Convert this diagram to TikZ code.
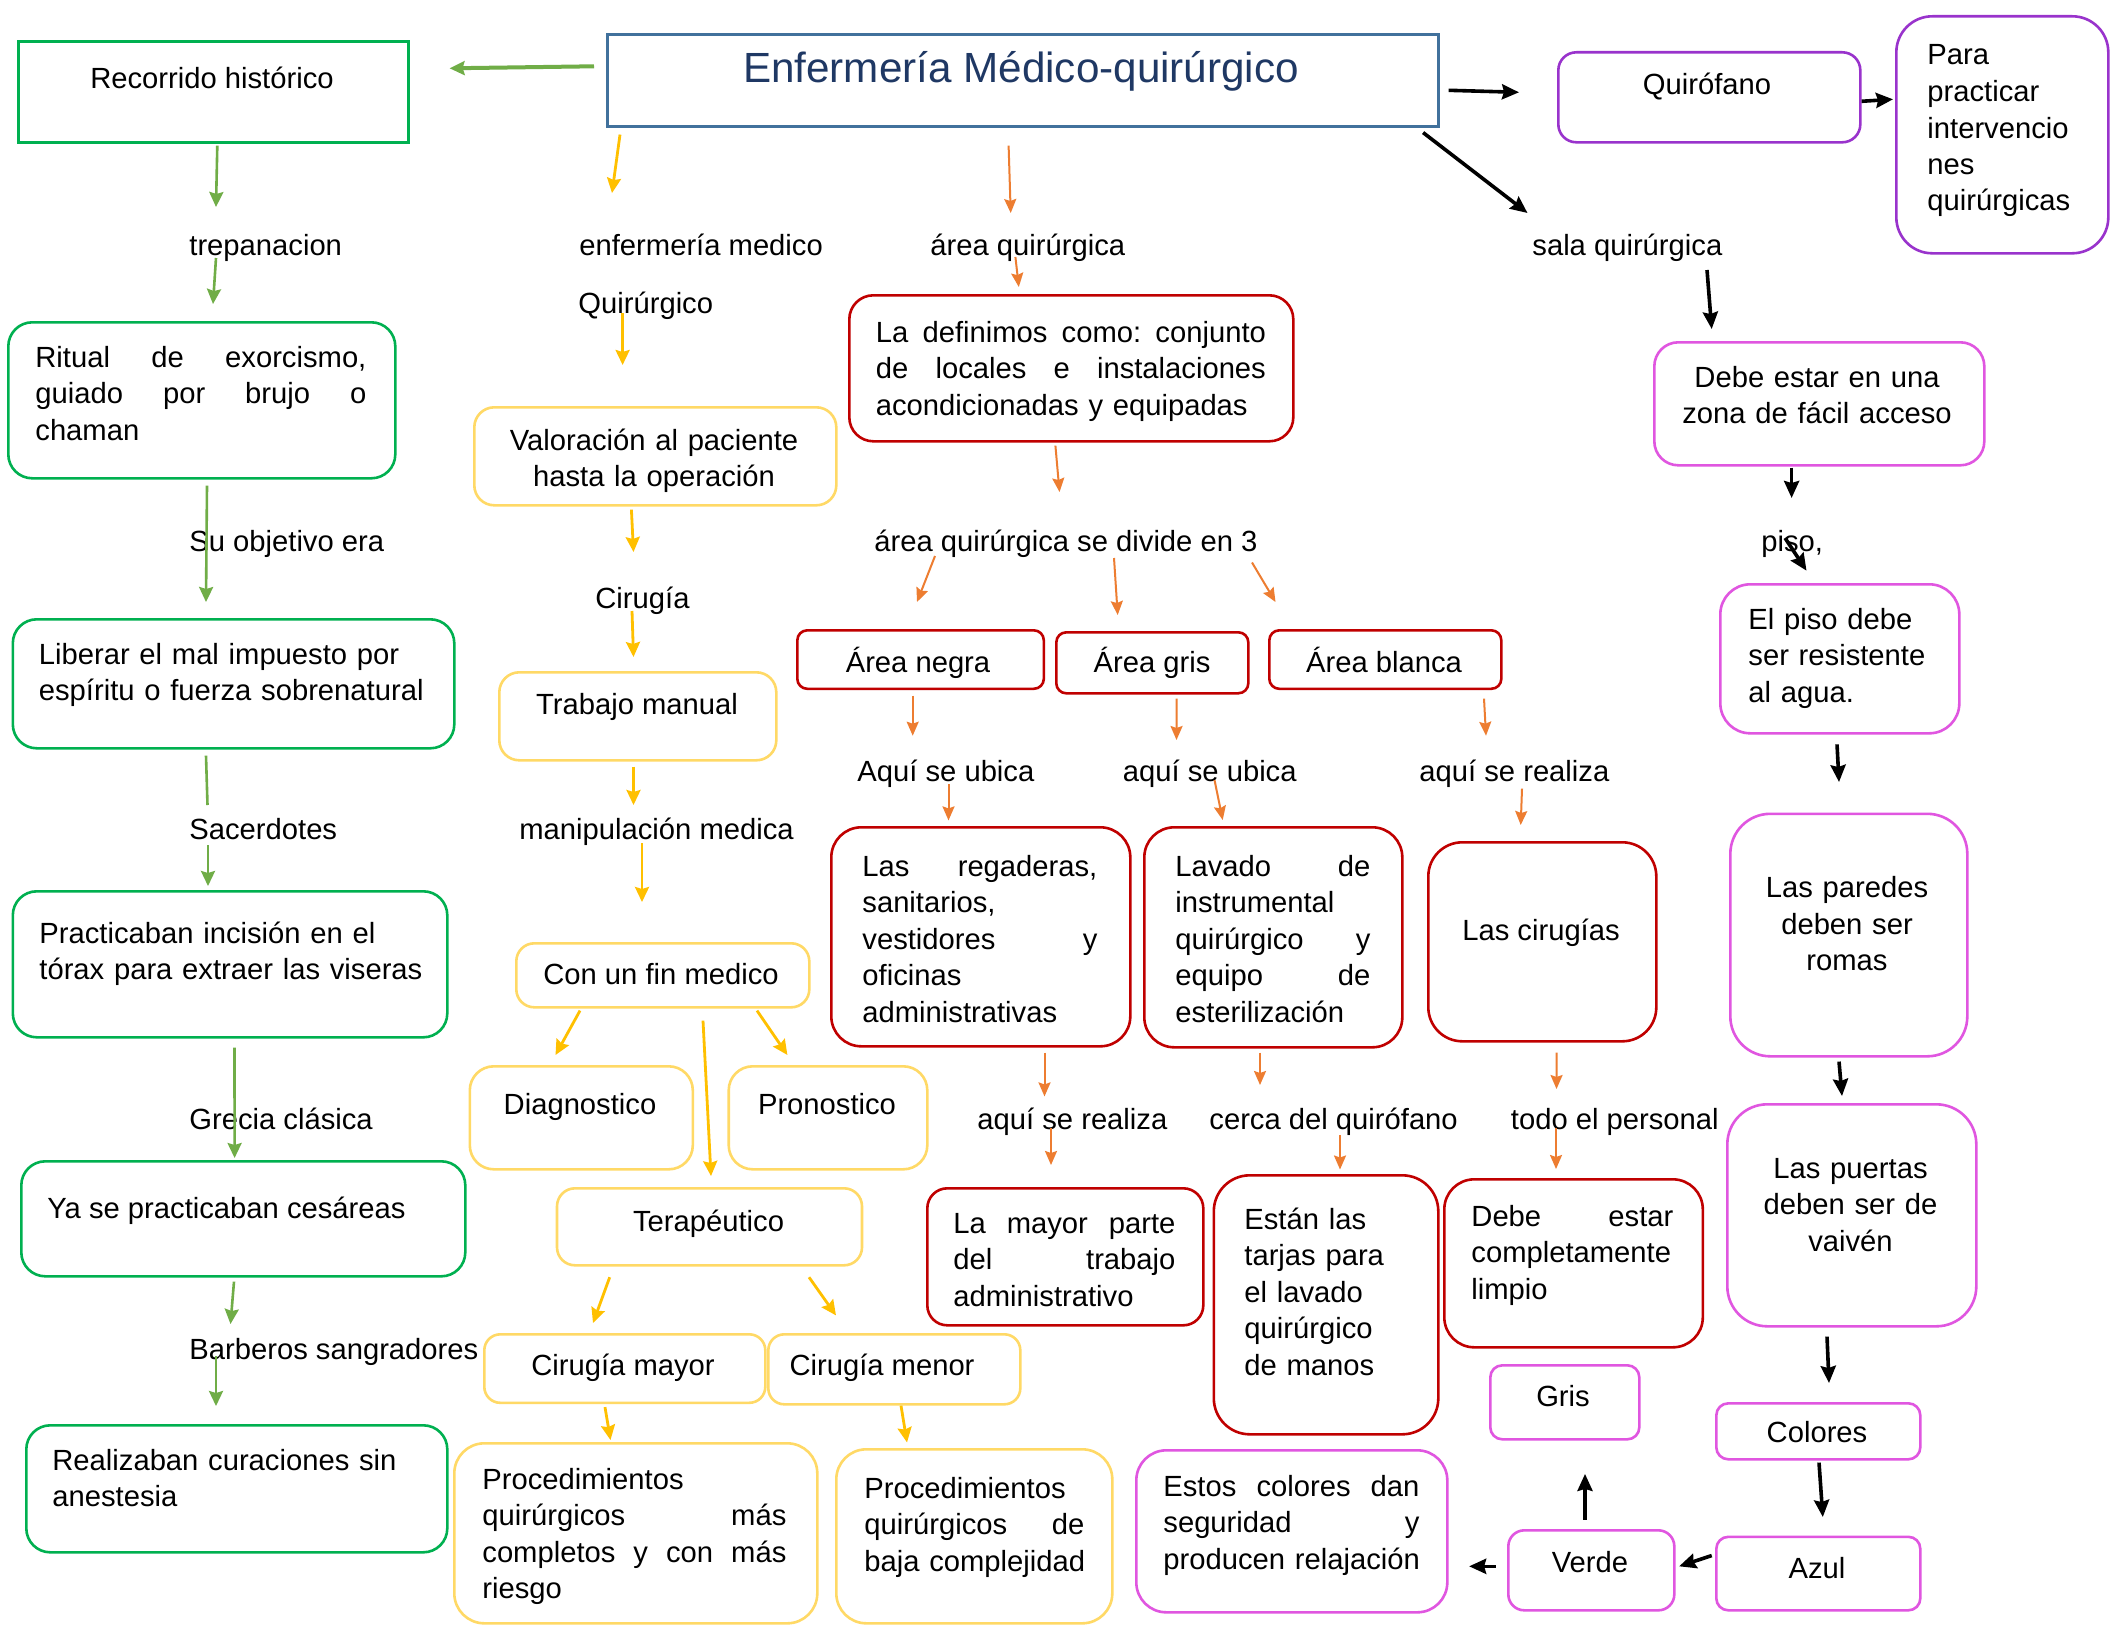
\documentclass[tikz,border=0pt]{standalone}
\usepackage{fontspec}
\setmainfont{Liberation Sans}
\usetikzlibrary{calc,arrows.meta}
\hyphenpenalty=10000
\exhyphenpenalty=10000
\newcommand{\jgap}{\nobreak\hfill\nobreak}

\definecolor{titleblue}{HTML}{41719C}
\definecolor{titletext}{HTML}{1F3864}
\definecolor{boxgreen}{HTML}{00B050}
\definecolor{arrowgreen}{HTML}{70AD47}
\definecolor{boxyellow}{HTML}{FFD966}
\definecolor{arrowyellow}{HTML}{FFC000}
\definecolor{boxred}{HTML}{C00000}
\definecolor{arroworange}{HTML}{ED7D31}
\definecolor{boxviolet}{HTML}{9933CC}
\definecolor{boxpink}{HTML}{E056E0}

\tikzstyle{box} = [draw, line width=1.3pt, anchor=north west, inner sep=0pt]
\tikzstyle{txt} = [inner sep=0pt, anchor=base west]
\tikzstyle{ctxt} = [inner sep=0pt, anchor=base]
\tikzstyle{garrow} = [-{Stealth[length=7.5pt,width=7pt,inset=1pt]},arrowgreen,line width=1.3pt]
\tikzstyle{gline} = [-,arrowgreen,line width=1.3pt]
\tikzstyle{yarrow} = [-{Stealth[length=7.5pt,width=7pt,inset=1pt]},arrowyellow,line width=1.4pt]
\tikzstyle{oarrow} = [-{Stealth[length=7pt,width=6pt,inset=1pt]},arroworange,line width=1pt]
\tikzstyle{karrow} = [-{Stealth[length=8.5pt,width=7.5pt,inset=1pt]},black,line width=1.8pt]

\begin{document}
\begin{tikzpicture}[x=0.5pt,y=-0.5pt,font=\fontsize{14.6}{18.25}\selectfont]
    \fill[white] (0,0) rectangle (2112,1632);
    \useasboundingbox (0,0) rectangle (2112,1632);

    %% boxes
    \node[box, draw=titleblue, line width=1.3pt, minimum width=415.5pt, minimum height=46pt] (title) at (606,33) {};
    \node[box, draw=boxgreen, minimum width=195pt, minimum height=50.5pt] (rec) at (17,40) {};
    \foreach \nodename/\x/\y/\w/\h/\rad/\clr in {
      rit/7/321/387/156/12/boxgreen,
      lib/11.5/618/441.5/129/12/boxgreen,
      prac/11.5/890/434.5/146/12/boxgreen,
      ya/20/1160/444/115/12/boxgreen,
      rea/25/1424/421/127/12/boxgreen,
      val/473/406/362/98/10/boxyellow,
      tra/498/671/277/88/10/boxyellow,
      con/515/942/293/64/9/boxyellow,
      dia/468.5/1065/223/103/12/boxyellow,
      pro/727.4/1065/198.6/103/12/boxyellow,
      ter/555.7/1187/305/77/9/boxyellow,
      may/483/1333/281/68.5/8/boxyellow,
      men/767/1333/252/70/8/boxyellow,
      pmay/453/1442/363/180/15/boxyellow,
      pmen/835/1448/276/174/15/boxyellow,
      def/848/294/444/146/12/boxred,
      neg/796/629/246.5/58.5/5/boxred,
      gri/1055/631/192/61/5/boxred,
      bla/1268/629/232/58.5/5/boxred,
      reg/830/826/299/219/15/boxred,
      lav/1143/826/258/220/15/boxred,
      cir/1427/841/228/199/17/boxred,
      lmp/926/1187/276/137/10/boxred,
      est/1212.5/1174/224.5/259/18/boxred,
      dcl/1443/1178/258.5/168/15/boxred,
      qui/1557/51/302/90/9/boxviolet,
      par/1895/15/212/237/18/boxviolet,
      deb/1653/341/330/123/12/boxpink,
      pis/1719/583/239/149/15/boxpink,
      pared/1729/812.5/237/242.5/20/boxpink,
      pue/1726/1103/249/222/20/boxpink,
      col/1715/1402/204/56/6/boxpink,
      azu/1715/1535.5/204/73.5/6/boxpink,
      ver/1507/1529/166/80/8/boxpink,
      gris/1489/1364/149/74/6/boxpink,
      eco/1135/1449/311/162/15/boxpink}
    {
      \node[box, draw=\clr, rounded corners=\rad pt, minimum width=\w*0.5pt, minimum height=\h*0.5pt] (\nodename) at (\x,\y) {};
    }

    %% texts in the boxes
    \node[ctxt, font=\fontsize{21.1}{25}\selectfont, text=titletext] (ttitle) at (1021,83) {Enfermería Médico-quirúrgico};
    \node[ctxt] (trec) at (212,89) {Recorrido histórico};
    \node[txt, text width=165.5pt, align=left] (trit) at (35,367) {Ritual\jgap de\jgap exorcismo,\\guiado\jgap por\jgap brujo\jgap o\\chaman};
    \node[txt, text width=210pt, align=left] (tlib) at (38.5,664) {Liberar el mal impuesto por\\espíritu o fuerza sobrenatural};
    \node[txt, text width=210pt, align=left] (tprac) at (39,943) {Practicaban incisión en el\\tórax para extraer las viseras};
    \node[txt] (tya) at (47,1218) {Ya se practicaban cesáreas};
    \node[txt, text width=200pt, align=left] (trea) at (52,1470) {Realizaban curaciones sin\\anestesia};

    \node[ctxt, text width=170pt, align=center] (tval) at (654,450) {Valoración al paciente\\hasta la operación};
    \node[ctxt] (ttra) at (637,714) {Trabajo manual};
    \node[ctxt] (tcon) at (661,984) {Con un fin medico};
    \node[ctxt] (tdia) at (580,1114) {Diagnostico};
    \node[ctxt] (tpro) at (827,1114) {Pronostico};
    \node[ctxt] (tter) at (708.5,1231) {Terapéutico};
    \node[ctxt] (tmay) at (623,1375) {Cirugía mayor};
    \node[ctxt] (tmen) at (882,1375) {Cirugía menor};
    \node[txt, text width=152pt, align=left] (tpmay) at (482,1489) {Procedimientos\\quirúrgicos\jgap más\\completos\jgap y\jgap con\jgap más\\riesgo};
    \node[txt, text width=110pt, align=left] (tpmen) at (864,1498) {Procedimientos\\quirúrgicos\jgap de\\baja~complejidad};

    \node[txt, text width=195pt, align=left] (tdef) at (875.5,342) {La\jgap definimos\jgap como:\jgap conjunto\\de\jgap locales\jgap e\jgap instalaciones\\acondicionadas~y~equipadas};
    \node[ctxt] (tneg) at (918,672.5) {Área negra};
    \node[ctxt] (tgri) at (1152,672.5) {Área gris};
    \node[ctxt] (tbla) at (1384,672.5) {Área blanca};
    \node[txt, text width=117.5pt, align=left] (treg) at (862,876) {Las\jgap regaderas,\\sanitarios,\\vestidores\jgap y\\oficinas\\administrativas};
    \node[txt, text width=97.5pt, align=left] (tlav) at (1175,876) {Lavado\jgap de\\instrumental\\quirúrgico\jgap y\\equipo\jgap de\\esterilización};
    \node[ctxt] (tcir) at (1541,940) {Las cirugías};
    \node[txt, text width=111pt, align=left] (tlmp) at (953,1233) {La\jgap mayor\jgap parte\\del\jgap trabajo\\administrativo};
    \node[txt, text width=95pt, align=left] (test) at (1244,1229) {Están las\\tarjas para\\el lavado\\quirúrgico\\de manos};
    \node[txt, text width=101pt, align=left] (tdcl) at (1471,1226) {Debe\jgap estar\\completamente\\limpio};

    \node[ctxt] (tqui) at (1707,95) {Quirófano};
    \node[txt, text width=88pt, align=left] (tpar) at (1927,65) {Para\\practicar\\intervencio\\nes\\quirúrgicas};
    \node[ctxt, text width=170pt, align=center] (tdeb) at (1817,387) {Debe estar en una\\zona de fácil acceso};
    \node[txt, text width=100pt, align=left] (tpis) at (1748,629) {El piso debe\\ser resistente\\al agua.};
    \node[ctxt, text width=115pt, align=center] (tpared) at (1847,897.5) {Las paredes\\deben ser\\romas};
    \node[ctxt, text width=120pt, align=center] (tpue) at (1850.5,1178) {Las puertas\\deben ser de\\vaivén};
    \node[ctxt] (tcol) at (1817,1442) {Colores};
    \node[ctxt] (tazu) at (1817,1578) {Azul};
    \node[ctxt] (tver) at (1590,1572) {Verde};
    \node[ctxt] (tgris) at (1563,1406) {Gris};
    \node[txt, text width=128pt, align=left] (teco) at (1163,1496) {Estos\jgap colores\jgap dan\\seguridad\jgap y\\producen~relajación};

    %% labels between the boxes
    \foreach \nodename/\x/\y/\lbl in {
      trep/189/255/trepanacion,
      enf/579/255/enfermería medico,
      quir/578/313/Quirúrgico,
      area/930/255/área quirúrgica,
      sala/1532/255/sala quirúrgica,
      obj/189/551/Su objetivo era,
      div/874/551/área quirúrgica se divide en 3,
      piso/1761/551/{piso,},
      ciru/595/608/Cirugía,
      ubi1/857/781/Aquí se ubica,
      ubi2/1122.5/781/aquí se ubica,
      rz1/1419/781/aquí se realiza,
      sac/189/839/Sacerdotes,
      man/519/839/manipulación medica,
      gre/189/1129/Grecia clásica,
      rz2/977/1129/aquí se realiza,
      cer/1209/1129/cerca del quirófano,
      tod/1510.5/1129/todo el personal,
      bar/189/1359/Barberos sangradores}
    {
      \node[txt] (\nodename) at (\x,\y) {\lbl};
    }

    %edges, green
    \draw[garrow, line width=2pt] ($(title.west)+(-12,-14)$) -- ($(rec.east)+(40,-23.5)$);
    \draw[garrow] ($(rec.south)+(4,2)$) -- ($(trep.base west)+(27,-48)$);
    \draw[garrow] ($(trep.base west)+(27,3)$) -- ($(rit.north west)+(206,-17)$);
    \draw[garrow] ($(rit.south west)+(200,6)$) -- ($(lib.north west)+(194.5,-16)$);
    \draw[gline] ($(lib.south west)+(194.5,6)$) -- ($(sac.base west)+(18.5,-34)$);
    \draw[garrow] ($(sac.base west)+(19,6)$) -- ($(prac.north west)+(196.5,-4)$);
    \draw[garrow] ($(prac.south west)+(223,9)$) -- ($(ya.north west)+(214.6,-2)$);
    \draw[garrow] ($(ya.south west)+(214,4)$) -- ($(bar.base west)+(41.5,-35)$);
    \draw[garrow] ($(bar.base west)+(27,-3)$) -- ($(rea.north west)+(191,-18)$);

    %edges, yellow
    \draw[yarrow] ($(title.south west)+(14,7)$) -- ($(enf.base west)+(33,-62)$);
    \draw[yarrow] ($(quir.base west)+(44.6,0)$) -- ($(val.north west)+(149.6,-41)$);
    \draw[yarrow] ($(val.south west)+(158.4,3)$) -- ($(ciru.base west)+(38.5,-56)$);
    \draw[yarrow] ($(ciru.base west)+(37,3)$) -- ($(tra.north west)+(135.5,-14)$);
    \draw[yarrow] ($(tra.south west)+(135.5,5)$) -- ($(man.base west)+(114.5,-34)$);
    \draw[yarrow] ($(man.base west)+(123,4)$) -- ($(con.north west)+(127,-40)$);
    \draw[yarrow] ($(con.south west)+(65,2)$) -- ($(dia.north west)+(87,-10)$);
    \draw[yarrow] ($(con.south west)+(188,12)$) -- ($(ter.north west)+(155.3,-11)$);
    \draw[yarrow] ($(con.south west)+(242,2)$) -- ($(pro.north west)+(60,-10)$);
    \draw[yarrow] ($(ter.south west)+(54,10.6)$) -- ($(may.north west)+(110,-10)$);
    \draw[yarrow] ($(ter.south west)+(253.3,10.6)$) -- ($(men.north west)+(69,-17.6)$);
    \draw[yarrow] ($(may.south west)+(122,3)$) -- ($(pmay.north west)+(157.5,-2)$);
    \draw[yarrow] ($(men.south west)+(134,0)$) -- ($(pmen.north west)+(72,-5.6)$);

    %edges, orange
    \draw[oarrow] ($(title.south west)+(402.6,18)$) -- ($(area.base west)+(80.7,-42)$);
    \draw[oarrow] ($(area.base west)+(85.4,2)$) -- ($(def.north west)+(170.8,-7)$);
    \draw[oarrow] ($(def.south west)+(207.4,3)$) -- ($(div.base west)+(185.5,-59)$);
    \draw[oarrow] ($(div.base west)+(61,5)$) -- ($(neg.north west)+(121,-27)$);
    \draw[oarrow] ($(div.base west)+(240,7)$) -- ($(gri.north west)+(62.7,-16)$);
    \draw[oarrow] ($(div.base west)+(378,11.5)$) -- ($(bla.north west)+(7.5,-27)$);
    \draw[oarrow] ($(neg.south west)+(116.7,5.4)$) -- ($(ubi1.base west)+(55.7,-45.3)$);
    \draw[oarrow] ($(ubi1.base west)+(91.5,3)$) -- ($(reg.north west)+(118.5,-5.6)$);
    \draw[oarrow] ($(gri.south west)+(121.6,4)$) -- ($(ubi2.base west)+(54,-41)$);
    \draw[oarrow] ($(ubi2.base west)+(92,-1)$) -- ($(lav.north west)+(79.7,-6)$);
    \draw[oarrow] ($(bla.south west)+(216,8.5)$) -- ($(rz1.base west)+(67,-45.3)$);
    \draw[oarrow] ($(rz1.base west)+(103,7.6)$) -- ($(cir.north west)+(93.7,-16)$);
    \draw[oarrow] ($(reg.south west)+(214.5,5)$) -- ($(rz2.base west)+(67.5,-32.6)$);
    \draw[oarrow] ($(rz2.base west)+(74,-1)$) -- ($(lmp.north west)+(125,-22)$);
    \draw[oarrow] ($(lav.south west)+(117,4)$) -- ($(cer.base west)+(51,-44)$);
    \draw[oarrow] ($(cer.base west)+(131,6)$) -- ($(est.north west)+(127.5,-4.5)$);
    \draw[oarrow] ($(cir.south west)+(129.6,10)$) -- ($(tod.base west)+(46,-40)$);
    \draw[oarrow] ($(tod.base west)+(45.5,-1)$) -- ($(dcl.north west)+(113,-9)$);

    %edges, black
    \draw[karrow] ($(title.east)+(9,10)$) -- ($(qui.west)+(-38,-5)$);
    \draw[karrow] ($(qui.east)+(0,4)$) -- ($(par.west)+(-2,-35.5)$);
    \draw[karrow] ($(title.south east)+(-16.5,5)$) -- ($(sala.base west)+(-4.5,-42)$);
    \draw[karrow] ($(sala.base west)+(175,15)$) -- ($(deb.north west)+(58.7,-12)$);
    \draw[karrow] ($(deb.south west)+(138.6,1)$) -- ($(piso.base west)+(30.6,-53)$);
    \draw[karrow] ($(piso.base west)+(24,-13)$) -- ($(pis.north west)+(87.5,-12.3)$);
    \draw[karrow] ($(pis.south west)+(118,9.8)$) -- ($(pared.north west)+(110,-30.5)$);
    \draw[karrow] ($(pared.south west)+(110,4)$) -- ($(pue.north west)+(116,-7)$);
    \draw[karrow] ($(pue.south west)+(101,9)$) -- ($(col.north west)+(114,-19)$);
    \draw[karrow] ($(col.south west)+(104,2)$) -- ($(azu.north west)+(107.8,-18.5)$);
    \draw[karrow] ($(azu.west)+(-3.3,-18)$) -- ($(ver.east)+(3.5,-4)$);
    \draw[karrow] ($(ver.north west)+(78,-9.4)$) -- ($(gris.south west)+(96,33.3)$);
    \draw[karrow] ($(ver.west)+(-11.4,-4)$) -- ($(eco.east)+(20.5,35)$);
  \end{tikzpicture}
\end{document}
